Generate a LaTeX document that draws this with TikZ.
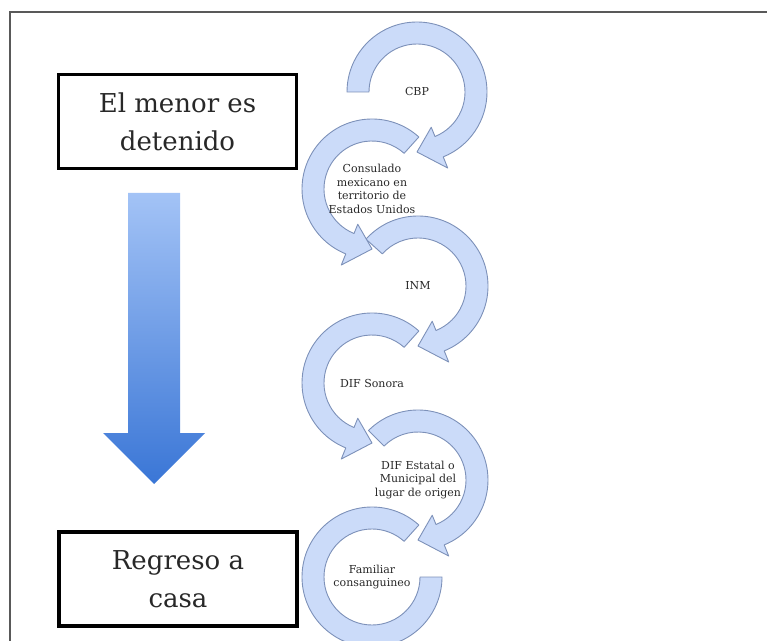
\documentclass[tikz,border=0pt]{standalone}
\usepackage{fontspec}
\setmainfont{DejaVu Serif}
\usepackage{tikz}
\usetikzlibrary{arrows.meta, positioning, calc}
\definecolor{ringfill}{RGB}{203,219,249}
\definecolor{ringline}{RGB}{125,145,185}
\definecolor{arrtop}{RGB}{163,195,246}
\definecolor{arrbot}{RGB}{58,118,214}
\definecolor{txtgray}{RGB}{40,40,40}
% curved band with head: centre, tail angle, head base angle, tip angle
\newcommand{\ringarrow}[4]{%
  \filldraw[ring] ($(#1)+(#2:70pt)$) arc[start angle=#2,end angle=#3,radius=70pt]
    -- ($(#1)+(#3:82pt)$) -- ($(#1)+(#4:60pt)$) -- ($(#1)+(#3:38pt)$)
    -- ($(#1)+(#3:48pt)$) arc[start angle=#3,end angle=#2,radius=48pt] -- cycle;}

\begin{document}
\begin{tikzpicture}[x=1pt,y=1pt,>=Stealth,
  box/.style={draw=black,line width=3.5pt,minimum width=238pt,minimum height=94pt,
    align=center,text=txtgray,font=\fontsize{26}{38}\selectfont},
  ring/.style={fill=ringfill,draw=ringline,line width=0.9pt,line join=round},
  lbl/.style={align=center,text=txtgray,font=\fontsize{11}{13.5}\selectfont}]
  \useasboundingbox (0,0) rectangle (767,640);
  \clip (0,0) rectangle (767,640);

  % frame
  \draw[black!65,line width=2pt] (10,-10) -- (10,628) -- (790,628);

  \node[box] (caught) at (177.5,518.5) {El menor es\\detenido};
  \node[box] (home) at (178,61) {Regreso a\\casa};

  \shade[top color=arrtop,bottom color=arrbot]
    (128,447) -- (180,447) -- (180,207) -- (205,207) -- (154,156)
    -- (103,207) -- (128,207) -- cycle;

  \foreach \n/\cx/\cy in {1/417/548,2/372/451,3/418/354,4/372/257,5/418/160,6/372/63}
    \coordinate (c\n) at (\cx,\cy);

  \filldraw[ring] ($(c6)+(48:70pt)$) arc[start angle=48,end angle=360,radius=70pt]
    -- ($(c6)+(0:48pt)$) arc[start angle=360,end angle=48,radius=48pt] -- cycle;
  \ringarrow{c5}{135}{-68}{-90}
  \ringarrow{c4}{48}{248}{270}
  \ringarrow{c3}{138}{-68}{-90}
  \ringarrow{c2}{48}{248}{270}
  \ringarrow{c1}{180}{-68}{-90}

  \node[lbl] (cbp) at (c1) {CBP};
  \node[lbl] (consul) at (c2) {Consulado\\mexicano en\\territorio de\\Estados Unidos};
  \node[lbl] (inm) at (c3) {INM};
  \node[lbl] (sonora) at (c4) {DIF Sonora};
  \node[lbl] (estatal) at (c5) {DIF Estatal o\\Municipal del\\lugar de origen};
  \node[lbl] (family) at (c6) {Familiar\\consanguineo};
\end{tikzpicture}
\end{document}
